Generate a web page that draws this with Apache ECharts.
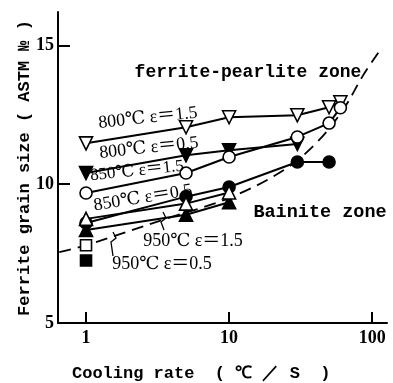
<!DOCTYPE html>
<html><head><meta charset="utf-8">
<script src="https://cdn.jsdelivr.net/npm/echarts@6/dist/echarts.min.js"></script>
<style>html,body{margin:0;padding:0;background:#fff}#c{width:393px;height:383px}</style>
</head><body><div id="c"></div>
<script>
// Data
const xTicks = [1, 10, 100];
const yTicks = [5, 10, 15];
const s800_15_x = [1, 5, 10, 30, 50, 60];
const s800_15_y = [11.47, 12.05, 12.41, 12.48, 12.77, 12.95];
const s800_05_x = [1, 5, 10, 30];
const s800_05_y = [10.4, 11.04, 11.22, 11.45];
const s850_15_x = [1, 5, 10, 30, 50, 60];
const s850_15_y = [9.68, 10.4, 10.98, 11.7, 12.2, 12.75];
const s850_05_x = [1, 5, 10, 30, 50];
const s850_05_y = [8.6, 9.55, 9.9, 10.8, 10.8];
const s950_15_x = [1, 5, 10];
const s950_15_y = [8.75, 9.3, 9.7];
const s950_05_x = [1, 5, 10];
const s950_05_y = [8.35, 8.9, 9.35];
const openSq_x = [1];
const openSq_y = [7.8];
const fillSq_x = [1];
const fillSq_y = [7.25];
const bound_x = [0.65, 1, 3.6, 10, 24, 41, 63, 86, 118];
const bound_y = [7.55, 7.8, 8.75, 9.5, 10.5, 11.5, 12.7, 13.9, 14.95];

const zip = (xs, ys) => xs.map((x, i) => [x, ys[i]]);
const chart = echarts.init(document.getElementById('c'));
const serifF = '"Liberation Serif","DejaVu Serif","Noto Sans CJK JP",serif';
const monoF = '"Liberation Mono","DejaVu Sans Mono",monospace';

function ser(xs, ys, symbol, filled, rot, size) {
  return {
    type: 'line', data: zip(xs, ys), symbol: symbol, symbolSize: size || 13,
    symbolRotate: rot || 0, showAllSymbol: true,
    lineStyle: {color: '#000', width: 2},
    itemStyle: {color: filled ? '#000' : '#fff', borderColor: '#000', borderWidth: 1.6},
    z: filled ? 4 : 5, animation: false
  };
}

function txt(s, x, y, rot, font, size, weight, align) {
  return {type: 'text', x: x, y: y, rotation: (rot || 0) * Math.PI / 180,
    style: {text: s, fill: '#000', font: (weight || 'normal') + ' ' + size + 'px ' + font,
      align: align || 'center', verticalAlign: 'middle'}, z: 10};
}

chart.setOption({
  animation: false,
  grid: {left: 58, right: 6, top: 12, bottom: 60},
  xAxis: {
    type: 'log', logBase: 10, min: 0.637, max: 127,
    axisLine: {lineStyle: {color: '#000', width: 2}},
    axisTick: {inside: true, length: 11, lineStyle: {color: '#000', width: 2}, customValues: xTicks},
    axisLabel: {customValues: xTicks, color: '#000', fontSize: 18, fontWeight: 'bold', fontFamily: serifF, margin: 6},
    splitLine: {show: false}
  },
  yAxis: {
    type: 'value', min: 5, max: 16.2,
    axisLine: {lineStyle: {color: '#000', width: 2}},
    axisTick: {inside: true, length: 12, lineStyle: {color: '#000', width: 2}, customValues: [10, 15]},
    axisLabel: {customValues: yTicks, color: '#000', fontSize: 18, fontWeight: 'bold', fontFamily: serifF, margin: 4},
    splitLine: {show: false}
  },
  series: [
    {type: 'line', data: zip(bound_x, bound_y), symbol: 'none', smooth: 0.35,
      lineStyle: {color: '#000', width: 1.8, type: [12, 7]}, z: 3},
    ser(s800_15_x, s800_15_y, 'triangle', false, 180),
    ser(s800_05_x, s800_05_y, 'triangle', true, 180),
    ser(s850_15_x, s850_15_y, 'circle', false, 0, 12),
    ser(s850_05_x, s850_05_y, 'circle', true, 0, 12),
    ser(s950_15_x, s950_15_y, 'triangle', false),
    ser(s950_05_x, s950_05_y, 'triangle', true),
    ser(openSq_x, openSq_y, 'rect', false, 0, 11),
    ser(fillSq_x, fillSq_y, 'rect', true, 0, 11)
  ],
  graphic: [
    txt('ferrite-pearlite zone', 248, 72, 0, monoF, 18, 'bold'),
    txt('Bainite zone', 320, 212, 0, monoF, 18.5, 'bold'),
    txt('800℃ ε＝1.5', 148, 118, 6, serifF, 18),
    txt('800℃ ε＝0.5', 149, 148, 6, serifF, 18),
    txt('850℃ ε＝1.5', 137, 171, 6, serifF, 17),
    txt('850℃ ε＝0.5', 143, 198, 9, serifF, 18),
    txt('950℃ ε＝1.5', 193, 241, 0, serifF, 18),
    txt('950℃ ε＝0.5', 162, 264, 0, serifF, 18),
    txt('Cooling rate  ( ℃ ／ S  )', 72, 374, 0, monoF, 17, 'bold', 'left'),
    txt('Ferrite grain size ( ASTM № )', 25, 168, 90, monoF, 17, 'bold'),
    {type: 'polyline', shape: {points: [[163, 212], [166, 218], [161, 222], [164, 230]]},
      style: {stroke: '#000', lineWidth: 1.3, fill: null}, z: 10},
    {type: 'polyline', shape: {points: [[113, 232], [116, 238], [111, 242], [113, 256]]},
      style: {stroke: '#000', lineWidth: 1.3, fill: null}, z: 10}
  ]
});
</script></body></html>
